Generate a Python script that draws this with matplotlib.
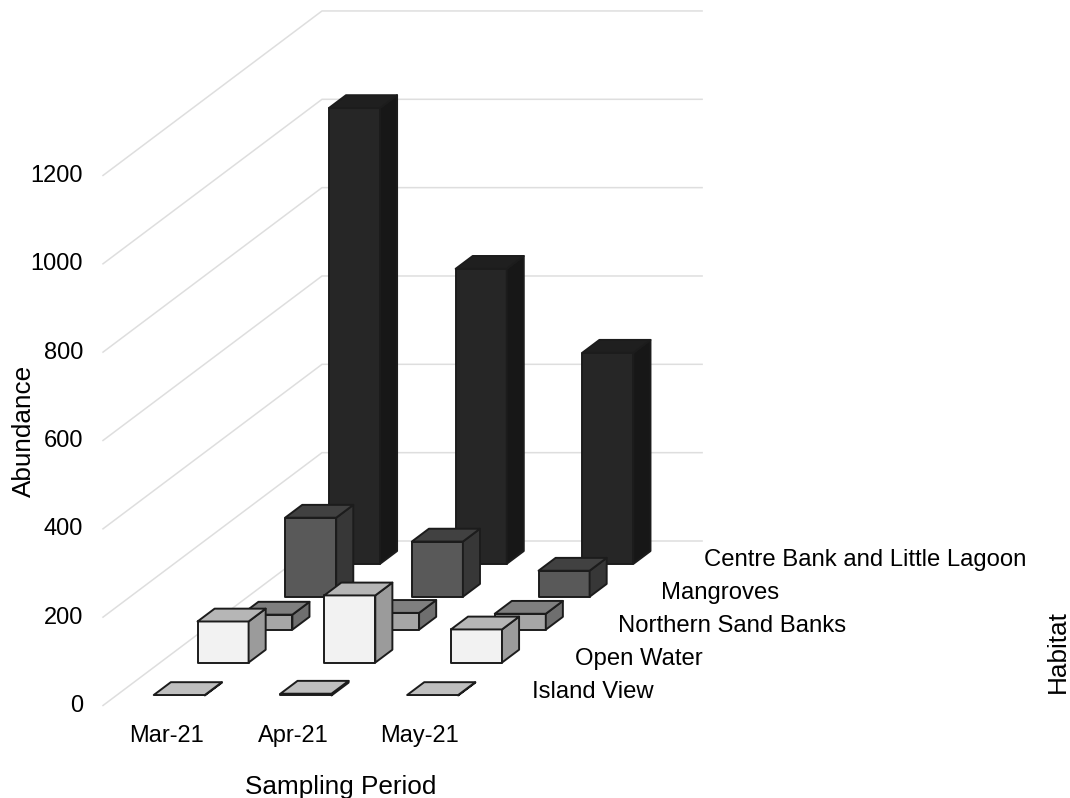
import matplotlib
matplotlib.use("Agg")
import matplotlib.pyplot as plt
from matplotlib.patches import Polygon

plt.rcParams['font.family'] = ['Liberation Sans', 'DejaVu Sans']

periods = ['Mar-21', 'Apr-21', 'May-21']
habitats = ['Island View', 'Open Water', 'Northern Sand Banks', 'Mangroves',
            'Centre Bank and Little Lagoon']
island_view = [1, 4, 1]
open_water = [93, 152, 75]
northern_sand_banks = [34, 38, 36]
mangroves = [179, 125, 59]
centre_bank = [1032, 668, 478]
value_ticks = [0, 200, 400, 600, 800, 1000, 1200]

series_values = [island_view, open_water, northern_sand_banks, mangroves, centre_bank]
# (front, side, top)
series_colours = [
    ('#bfbfbf', '#8f8f8f', '#bfbfbf'),
    ('#f2f2f2', '#9b9b9b', '#b6b6b6'),
    ('#a6a6a6', '#6f6f6f', '#7f7f7f'),
    ('#595959', '#373737', '#414141'),
    ('#262626', '#171717', '#1f1f1f'),
]

# oblique projection of (category, depth, value) to figure pixels
X0, Y0 = 103.0, 705.5
CAT_W = 126.7
DEPTH_DX, DEPTH_DY = 43.8, -32.9
PX_PER_UNIT = 0.4417
BAR_W = 0.403
BAR_D = 0.39


def proj(c, d, v):
    return (X0 + c * CAT_W + d * DEPTH_DX, Y0 + d * DEPTH_DY - v * PX_PER_UNIT)


fig = plt.figure(figsize=(10.7, 7.98), dpi=100)
ax = fig.add_axes([0, 0, 1, 1])
ax.set_xlim(0, 1070)
ax.set_ylim(798, 0)
ax.axis('off')

GRID = '#dedede'
ncat, nser = len(periods), len(habitats)
for v in value_ticks:
    a, b, c = proj(0, 0, v), proj(0, nser, v), proj(ncat, nser, v)
    ax.plot([a[0], b[0], c[0]], [a[1], b[1], c[1]], color=GRID, lw=1.1, zorder=1,
            solid_joinstyle='miter')
    ax.text(83, a[1] + 0.5, str(v), ha='right', va='center', fontsize=17)

EDGE = '#1c1c1c'
z = 2
for s in range(nser - 1, -1, -1):
    front, side, top = series_colours[s]
    for c in range(ncat):
        v = series_values[s][c]
        c0 = c + 0.295
        c1 = c0 + BAR_W
        d0 = s + (1 - BAR_D) / 2
        d1 = d0 + BAR_D
        faces = [
            ([proj(c0, d0, 0), proj(c1, d0, 0), proj(c1, d0, v), proj(c0, d0, v)], front),
            ([proj(c1, d0, 0), proj(c1, d1, 0), proj(c1, d1, v), proj(c1, d0, v)], side),
            ([proj(c0, d0, v), proj(c1, d0, v), proj(c1, d1, v), proj(c0, d1, v)], top),
        ]
        for pts, col in faces:
            ax.add_patch(Polygon(pts, closed=True, facecolor=col, edgecolor=EDGE,
                                 lw=1.4, joinstyle='round', zorder=z))
        z += 1

for c, name in enumerate(periods):
    x, y = proj(c + 0.5, 0, 0)
    ax.text(x, 736, name, ha='center', va='center', fontsize=17)

for s, name in enumerate(habitats):
    x, y = proj(ncat, s + 0.5, 0)
    ax.text(x + 27 - 0.75 * s, y + 3, name, ha='left', va='center', fontsize=17.2)

ax.text(341, 787, 'Sampling Period', ha='center', va='center', fontsize=18.8)
ax.text(24, 431, 'Abundance', ha='center', va='center', rotation=90, fontsize=18.8)
ax.text(1058, 652, 'Habitat', ha='center', va='center', rotation=90, fontsize=18.8)

fig.savefig('out.png', dpi=100)
